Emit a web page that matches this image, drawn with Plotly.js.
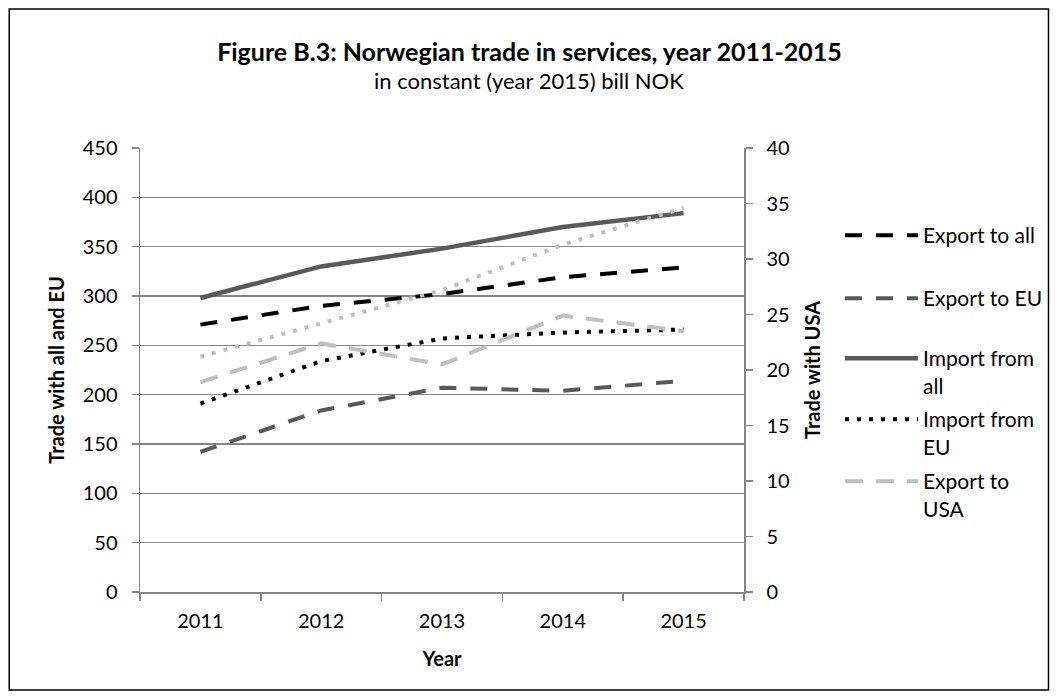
<!DOCTYPE html>
<html>
<head>
<meta charset="utf-8">
<script src="https://cdn.plot.ly/plotly-3.0.1.min.js"></script>
<style>html,body{margin:0;padding:0;background:#fff;}#chart{width:1059px;height:700px;}</style>
</head>
<body>
<div id="chart"></div>
<script>
const years = ['2011', '2012', '2013', '2014', '2015'];
const exportAll = [271, 290, 302, 319, 329];
const exportEU = [142, 184, 207, 204, 214];
const importAll = [298, 330, 348, 370, 384];
const importEU = [191, 234, 257, 263, 266];
const exportUSA = [18.9, 22.4, 20.5, 24.9, 23.5];
const importUSA = [21.2, 24.2, 27.2, 31.3, 34.6];
const leftTicks = [0, 50, 100, 150, 200, 250, 300, 350, 400, 450];
const rightTicks = [0, 5, 10, 15, 20, 25, 30, 35, 40];

const FONT = 'Lato, "Open Sans", sans-serif';
const GRID = '#868686';

const traces = [
  {name: 'Export to all', x: years, y: exportAll, yaxis: 'y', legend: 'legend',
   line: {color: '#000000', width: 4, dash: '17px,14px'}},
  {name: 'Export to EU', x: years, y: exportEU, yaxis: 'y', legend: 'legend2',
   line: {color: '#595959', width: 4, dash: '17px,14px'}},
  {name: 'Import from<br>all', x: years, y: importAll, yaxis: 'y', legend: 'legend3',
   line: {color: '#595959', width: 4.5}},
  {name: 'Import from<br>EU', x: years, y: importEU, yaxis: 'y', legend: 'legend4',
   line: {color: '#000000', width: 4, dash: '4px,8px'}},
  {name: 'Export to<br>USA', x: years, y: exportUSA, yaxis: 'y2', legend: 'legend5',
   line: {color: '#BFBFBF', width: 4, dash: '18px,13px'}},
  {name: 'Import from USA', x: years, y: importUSA, yaxis: 'y2', showlegend: false,
   line: {color: '#BFBFBF', width: 4, dash: '4px,8px'}}
].map(t => Object.assign({type: 'scatter', mode: 'lines', hoverinfo: 'skip'}, t));

const plotTop = 148, plotBottom = 592, plotH = plotBottom - plotTop;
function py(pix) { return (plotBottom - pix) / plotH; }
function legendAt(topPix) {
  return {x: 1.157, xanchor: 'left', y: py(topPix), yanchor: 'top',
          font: {family: FONT, size: 21, color: '#000'}, bgcolor: 'rgba(0,0,0,0)',
          itemwidth: 73, valign: 'top', tracegroupgap: 0};
}

const layout = {
  width: 1059, height: 700,
  margin: {l: 140, r: 314, t: plotTop, b: 700 - plotBottom},
  paper_bgcolor: '#ffffff', plot_bgcolor: '#ffffff',
  font: {family: FONT, size: 20, color: '#000'},
  title: {
    text: 'Figure B.3: Norwegian trade in services, year 2011-2015',
    font: {family: FONT, size: 25, weight: 'bold', color: '#000'},
    x: 0.5, xref: 'container', xanchor: 'center',
    y: 1 - 52 / 700, yref: 'container', yanchor: 'middle'
  },
  annotations: [{
    text: 'in constant (year 2015) bill NOK', showarrow: false,
    xref: 'paper', x: (529.5 - 140) / 605, xanchor: 'center',
    yref: 'paper', y: py(80), yanchor: 'middle',
    font: {family: FONT, size: 22, color: '#000'}
  }],
  xaxis: {
    type: 'category', range: [-0.5, 4.5], tickson: 'boundaries',
    ticks: 'outside', ticklen: 7, tickcolor: GRID, tickwidth: 1.5, ticklabelstandoff: 10,
    showline: true, linecolor: GRID, linewidth: 1.5, showgrid: false, zeroline: false,
    tickfont: {family: FONT, size: 20, color: '#000'},
    title: {text: 'Year', font: {family: FONT, size: 20, weight: 'bold', color: '#000'}, standoff: 21}
  },
  yaxis: {
    range: [0, 450], tickvals: leftTicks, ticks: 'outside', ticklen: 7, tickcolor: GRID, tickwidth: 1.5,
    ticklabelstandoff: 10,
    showline: true, linecolor: GRID, linewidth: 1.5, showgrid: true, gridcolor: GRID, gridwidth: 1.3,
    zeroline: false, tickfont: {family: FONT, size: 20, color: '#000'},
    title: {text: 'Trade with all and EU', font: {family: FONT, size: 20, weight: 'bold', color: '#000'}, standoff: 12}
  },
  yaxis2: {
    overlaying: 'y', side: 'right', range: [0, 40], tickvals: rightTicks,
    ticks: 'outside', ticklen: 7, tickcolor: GRID, tickwidth: 1.5, ticklabelstandoff: 10,
    showline: true, linecolor: GRID, linewidth: 1.5, showgrid: false, zeroline: false,
    tickfont: {family: FONT, size: 20, color: '#000'},
    title: {text: 'Trade with USA', font: {family: FONT, size: 20, weight: 'bold', color: '#000'}, standoff: 17}
  },
  legend: legendAt(215),
  legend2: legendAt(278),
  legend3: legendAt(338),
  legend4: legendAt(399),
  legend5: legendAt(461),
  shapes: [{
    type: 'rect', xref: 'paper', yref: 'paper',
    x0: (9 - 140) / 605, x1: (1050 - 140) / 605, y0: py(690), y1: py(9),
    line: {color: '#000', width: 1.5}, fillcolor: 'rgba(0,0,0,0)', layer: 'below'
  }]
};

Plotly.newPlot('chart', traces, layout, {displayModeBar: false, staticPlot: true});
</script>
</body>
</html>
